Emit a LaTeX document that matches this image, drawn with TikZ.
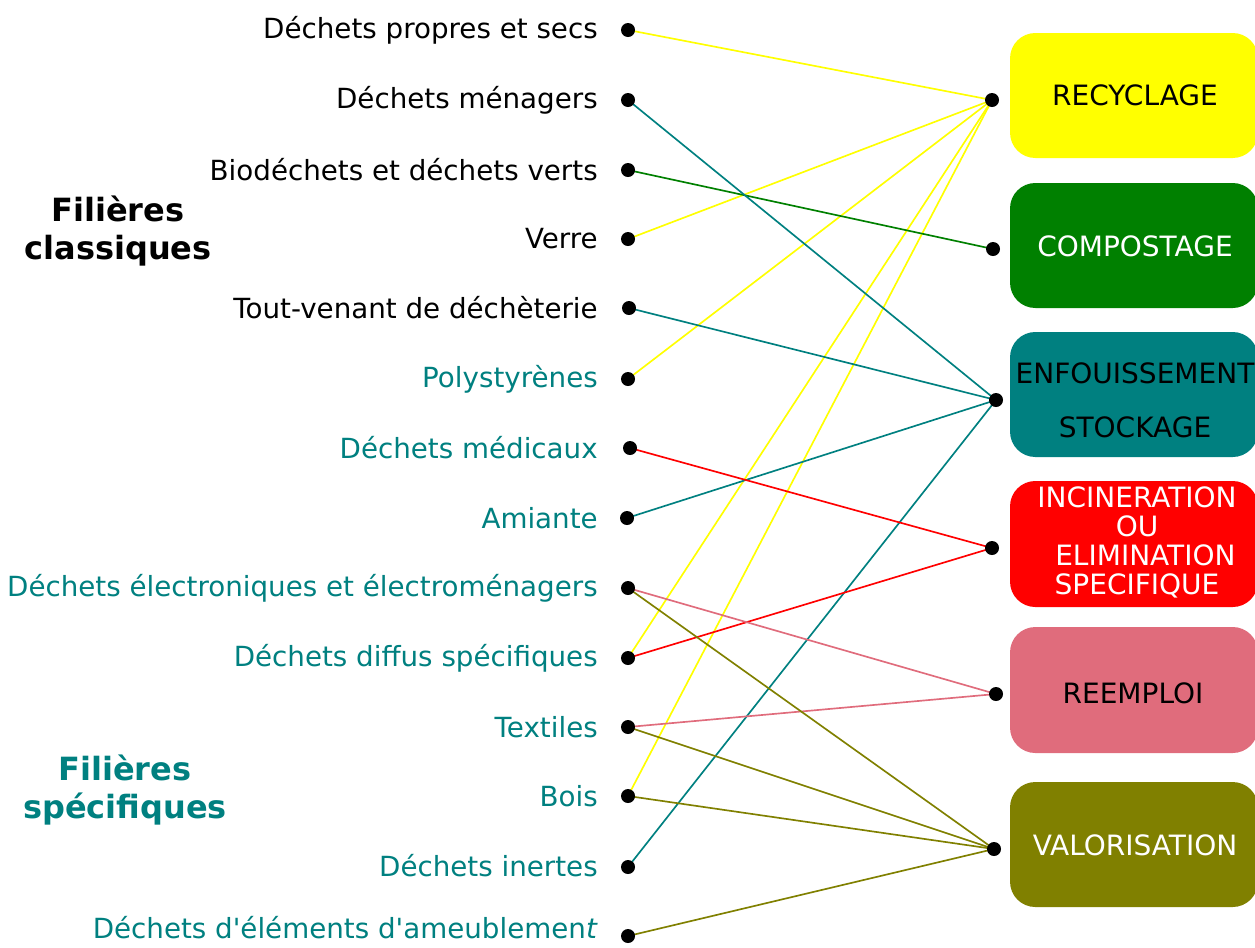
\documentclass[tikz,border=0pt]{standalone}
\usepackage{fontspec}
\newfontfamily\vfont{DejaVu Sans}
\definecolor{cyel}{RGB}{255,255,0}
\definecolor{cgrn}{RGB}{0,128,0}
\definecolor{cteal}{RGB}{0,128,128}
\definecolor{cred}{RGB}{255,0,0}
\definecolor{cpink}{RGB}{224,108,124}
\definecolor{colive}{RGB}{128,128,0}
\begin{document}
\begin{tikzpicture}[x=0.75pt,y=-0.75pt,
  lbl/.style={anchor=east,inner sep=0pt,font=\vfont\fontsize{20.8}{24}\selectfont},
  lblk/.style={lbl,text=black},
  lblt/.style={lbl,text=cteal},
  dotn/.style={circle,fill=black,inner sep=0pt,minimum size=10.5pt},
  boxn/.style={rounded corners=19pt,inner sep=0pt},
  btxt/.style={font=\vfont\fontsize{21}{21.75}\selectfont,align=center,inner sep=0pt},
  ttl/.style={font=\vfont\fontsize{24}{29}\selectfont\bfseries,align=center,inner sep=0pt},
  wire/.style={line width=1.25pt}
]
\useasboundingbox (0,0) rectangle (1255,947);
% boxes
\fill[cyel,boxn] (1010,33) rectangle (1258,158);
\fill[cgrn,boxn] (1010,183) rectangle (1258,308);
\fill[cteal,boxn] (1010,332) rectangle (1258,457);
\fill[cred,boxn] (1010,481) rectangle (1258,607);
\fill[cpink,boxn] (1010,627) rectangle (1258,753);
\fill[colive,boxn] (1010,782) rectangle (1258,907);
\node[btxt,text=black] (tRec) at (1135,95) {RECYCLAGE};
\node[btxt,text=white] (tCom) at (1135,246) {COMPOSTAGE};
\node[btxt,text=black] (tEnf) at (1135,373) {ENFOUISSEMENT};
\node[btxt,text=black] (tSto) at (1135,427) {STOCKAGE};
\node[btxt,text=white] (tInc) at (1137,542) {INCINERATION\\OU\\\hspace*{0.6em}ELIMINATION\\SPECIFIQUE};
\node[btxt,text=black] (tRee) at (1133,693) {REEMPLOI};
\node[btxt,text=white] (tVal) at (1135,845) {VALORISATION};
% titles
\node[ttl,text=black] (hCl) at (118,231) {Filières\\classiques};
\node[ttl,text=cteal] (hSp) at (125,790) {Filières\\spécifiques};
% labels
\node[lblk] (a1) at (598,30) {Déchets propres et secs};
\node[lblk] (a2) at (598,100) {Déchets ménagers};
\node[lblk] (a3) at (598,170) {Biodéchets et déchets verts};
\node[lblk] (a4) at (598,239) {Verre};
\node[lblk] (a5) at (598,308) {Tout-venant de déchèterie};
\node[lblt] (a6) at (598,379) {Polystyrènes};
\node[lblt] (a7) at (598,448) {Déchets médicaux};
\node[lblt] (a8) at (598,518) {Amiante};
\node[lblt] (a9) at (598,588) {Déchets électroniques et électroménagers};
\node[lblt] (a10) at (598,658) {Déchets diffus spécifiques};
\node[lblt] (a11) at (598,727) {Textiles};
\node[lblt] (a12) at (598,796) {Bois};
\node[lblt] (a13) at (598,866) {Déchets inertes};
\node[lblt] (a14) at (598,928) {Déchets d'éléments d'ameublemen\textit{t}};
% dots left
\coordinate (p1) at (628,30);
\coordinate (p2) at (628,100);
\coordinate (p3) at (628,170);
\coordinate (p4) at (628,239);
\coordinate (p5) at (629,308);
\coordinate (p6) at (628,379);
\coordinate (p7) at (630,448);
\coordinate (p8) at (627,518);
\coordinate (p9) at (628,588);
\coordinate (p10) at (628,658);
\coordinate (p11) at (628,727);
\coordinate (p12) at (628,796);
\coordinate (p13) at (628,867);
\coordinate (p14) at (628,936);
% dots right
\coordinate (q1) at (992,100);
\coordinate (q2) at (993,249);
\coordinate (q3) at (996,400);
\coordinate (q4) at (992,548);
\coordinate (q5) at (996,694);
\coordinate (q6) at (994,849);
% connectors
\draw[wire,cyel] (p1) -- (q1);
\draw[wire,cyel] (p4) -- (q1);
\draw[wire,cyel] (p6) -- (q1);
\draw[wire,cyel] (p10) -- (q1);
\draw[wire,cyel] (p12) -- (q1);
\draw[wire,cgrn] (p3) -- (q2);
\draw[wire,cteal] (p2) -- (q3);
\draw[wire,cteal] (p5) -- (q3);
\draw[wire,cteal] (p8) -- (q3);
\draw[wire,cteal] (p13) -- (q3);
\draw[wire,cred] (p7) -- (q4);
\draw[wire,cred] (p10) -- (q4);
\draw[wire,cpink] (p9) -- (q5);
\draw[wire,cpink] (p11) -- (q5);
\draw[wire,colive] (p9) -- (q6);
\draw[wire,colive] (p11) -- (q6);
\draw[wire,colive] (p12) -- (q6);
\draw[wire,colive] (p14) -- (q6);
% dot markers
\foreach \i in {1,...,14} \node[dotn] (dl\i) at (p\i) {};
\foreach \i in {1,...,6} \node[dotn] (dr\i) at (q\i) {};
\end{tikzpicture}
\end{document}
